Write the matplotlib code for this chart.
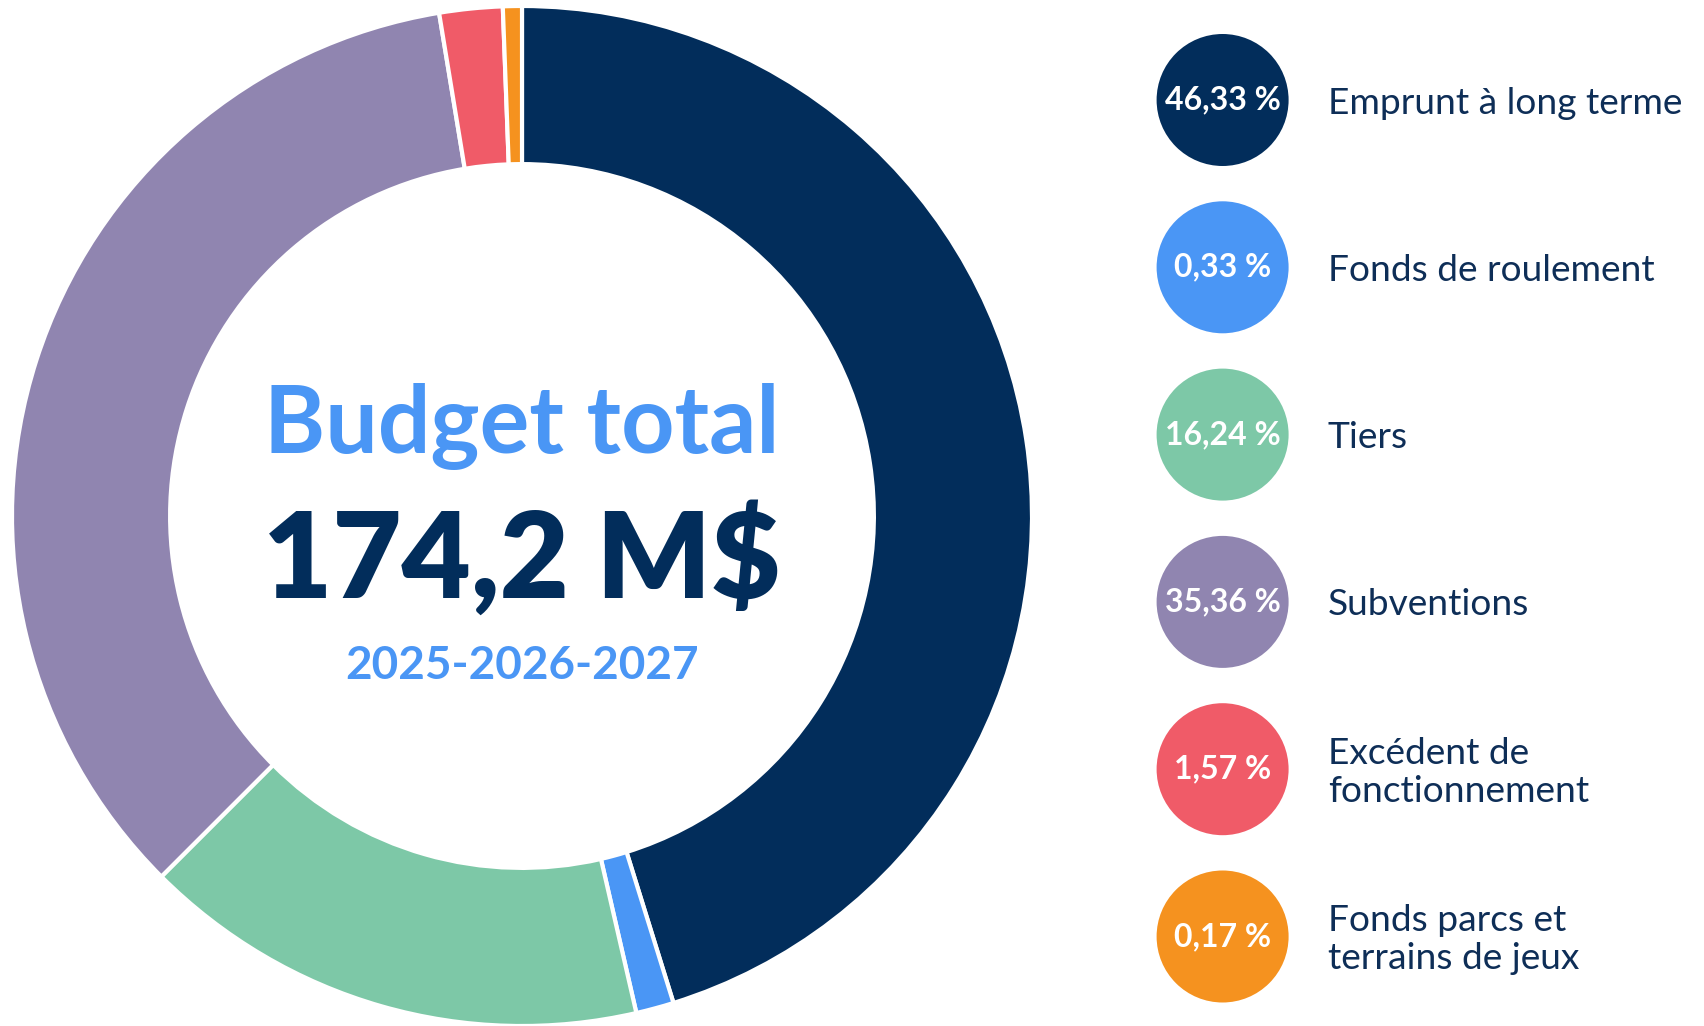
import matplotlib
matplotlib.use("Agg")
import matplotlib.pyplot as plt
from matplotlib.patches import Circle

# donnees du budget
labels = ["Emprunt à long terme", "Fonds de roulement", "Tiers", "Subventions",
          "Excédent de\nfonctionnement", "Fonds parcs et\nterrains de jeux"]
shares = [46.33, 0.33, 16.24, 35.36, 1.57, 0.17]
share_txt = ["46,33 %", "0,33 %", "16,24 %", "35,36 %", "1,57 %", "0,17 %"]
# parts telles que dessinees sur l'anneau (les petites parts sont agrandies)
arc_shares = [45.2, 1.2, 16.1, 34.9, 2.0, 0.6]
colors = ["#022d5b", "#4a96f5", "#7dc8a7", "#9085b0", "#f05b68", "#f5921f"]

title = "Budget total"
total_txt = "174,2 M$"
years_txt = "2025-2026-2027"

navy = "#0e2e57"
blue = "#4a96f5"
W, H = 1704, 1026

fig = plt.figure(figsize=(W / 100, H / 100), dpi=100)
ax = fig.add_axes([0, 0, 1, 1])

cx, cy, R = 522, H - 516, 510
ax.pie(arc_shares, colors=colors, startangle=90, counterclock=False,
       center=(cx, cy), radius=R,
       wedgeprops=dict(width=R * 0.31, edgecolor="white", linewidth=3))

ax.set_xlim(0, W)
ax.set_ylim(0, H)
ax.set_aspect("equal")
ax.axis("off")

# textes au centre
ax.text(cx, H - 426, title, ha="center", va="center", fontsize=67,
        fontfamily="Lato", fontweight="bold", color=blue)
ax.text(cx, H - 560, total_txt, ha="center", va="center", fontsize=86,
        fontfamily="Lato", fontweight="heavy", color="#022d5b")
ax.text(cx, H - 666, years_txt, ha="center", va="center", fontsize=33,
        fontfamily="Lato", fontweight="bold", color=blue)

# legende a droite
lx, ly0, step, r = 1222.6, 100, 167.3, 66
for i in range(len(labels)):
    y = H - (ly0 + i * step)
    ax.add_patch(Circle((lx, y), r, color=colors[i], lw=0))
    ax.text(lx, y, share_txt[i], ha="center", va="center", fontsize=23,
            fontfamily="Lato", fontweight="bold", color="white")
    ax.text(1328, y - 3, labels[i], ha="left", va="center", fontsize=26.7,
            fontfamily="Lato", color=navy, linespacing=1.2)

plt.savefig("out.png", dpi=100)
